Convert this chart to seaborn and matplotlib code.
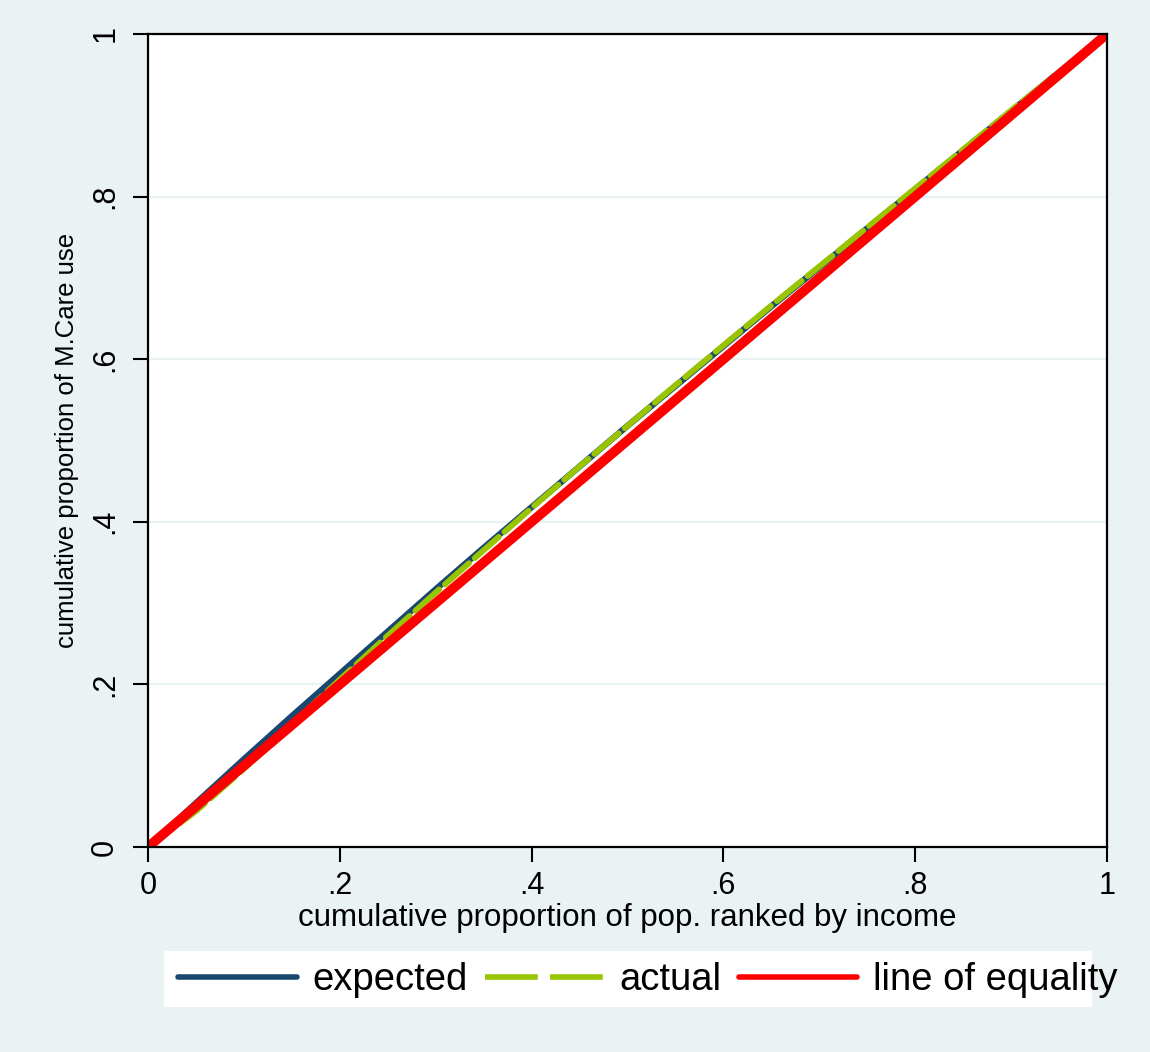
import matplotlib
matplotlib.use("Agg")
import matplotlib.pyplot as plt
from matplotlib.lines import Line2D
from matplotlib.patches import Rectangle
import seaborn as sns
import pandas as pd

# ---- data ----
pop_rank = [0, .05, .10, .15, .20, .25, .30, .35, .40, .45, .50, .55, .60, .65, .70, .75, .80, .85, .90, .95, 1.0]
expected = [0, .054, .108, .161, .213, .265, .317, .368, .418, .468, .518, .567, .616, .665, .713, .761, .809, .857, .905, .953, 1.0]
actual = [0, .044, .096, .151, .206, .260, .313, .365, .417, .468, .518, .568, .617, .666, .714, .762, .810, .858, .906, .953, 1.0]
equality_x = [0, 1]
equality_y = [0, 1]
tick_vals = [0, .2, .4, .6, .8, 1]
tick_labels = ["0", ".2", ".4", ".6", ".8", "1"]
series_names = ["expected", "actual", "line of equality"]
xlabel = "cumulative proportion of pop. ranked by income"
ylabel = "cumulative proportion of M.Care use"

BG = "#EAF2F3"
C_EXP = "#1A476F"
C_ACT = "#99C400"
C_EQ = "#FF0000"

sns.set_theme(style="white")
plt.rcParams["font.family"] = ["Liberation Sans", "DejaVu Sans"]
plt.rcParams["text.color"] = "black"
plt.rcParams["axes.labelcolor"] = "black"
plt.rcParams["xtick.color"] = "black"
plt.rcParams["ytick.color"] = "black"

fig = plt.figure(figsize=(11.5, 10.52), dpi=100, facecolor=BG)
ax = fig.add_axes([148 / 1150, 1 - 847 / 1052, (1107 - 148) / 1150, (847 - 34) / 1052])
ax.set_facecolor("white")

df_exp = pd.DataFrame({"x": pop_rank, "y": expected})
df_act = pd.DataFrame({"x": pop_rank, "y": actual})
df_eq = pd.DataFrame({"x": equality_x, "y": equality_y})

sns.lineplot(data=df_exp, x="x", y="y", ax=ax, color=C_EXP, lw=4.5,
             legend=False, solid_capstyle="butt")
sns.lineplot(data=df_act, x="x", y="y", ax=ax, color=C_ACT, lw=4.2,
             legend=False)
ax.lines[-1].set_dashes([5.5, 1.3])
ax.lines[-1].set_dash_capstyle("round")
sns.lineplot(data=df_eq, x="x", y="y", ax=ax, color=C_EQ, lw=7,
             legend=False)

ax.set_xlim(0, 1)
ax.set_ylim(0, 1)
ax.set_xticks(tick_vals)
ax.set_xticklabels(tick_labels, fontsize=22)
ax.set_yticks(tick_vals)
ax.set_yticklabels(tick_labels, fontsize=22, rotation=90, va="center")
ax.tick_params(axis="x", direction="out", length=11, width=1.5, color="black",
               bottom=True, pad=6, labelcolor="black")
ax.tick_params(axis="y", direction="out", length=11, width=1.5, color="black",
               left=True, pad=9, labelcolor="black")
ax.yaxis.grid(True, color=BG, lw=1.6)
ax.xaxis.grid(False)
for s in ax.spines.values():
    s.set_color("black")
    s.set_linewidth(1.6)

ax.set_xlabel(xlabel, fontsize=22.5, labelpad=2, color="black")
ax.set_ylabel(ylabel, fontsize=18.5, labelpad=8, color="black")

# legend box (white panel) and entries
fig.patches.append(Rectangle((164 / 1150, 1 - 1007 / 1052), (1092 - 164) / 1150,
                             (1007 - 951) / 1052, transform=fig.transFigure,
                             facecolor="white", edgecolor="none", zorder=0))
handles = [
    Line2D([], [], color=C_EXP, lw=4),
    Line2D([], [], color=C_ACT, lw=4, dashes=[9.5, 2.2]),
    Line2D([], [], color=C_EQ, lw=4),
]
leg = fig.legend(handles, series_names, ncol=3, loc="center",
                 bbox_to_anchor=(648 / 1150, 1 - 980 / 1052),
                 fontsize=27.5, handlelength=3.1, handletextpad=0.42,
                 columnspacing=0.45, frameon=False)
for t in leg.get_texts():
    t.set_color("black")

fig.savefig("out.png", dpi=100, facecolor=BG)
